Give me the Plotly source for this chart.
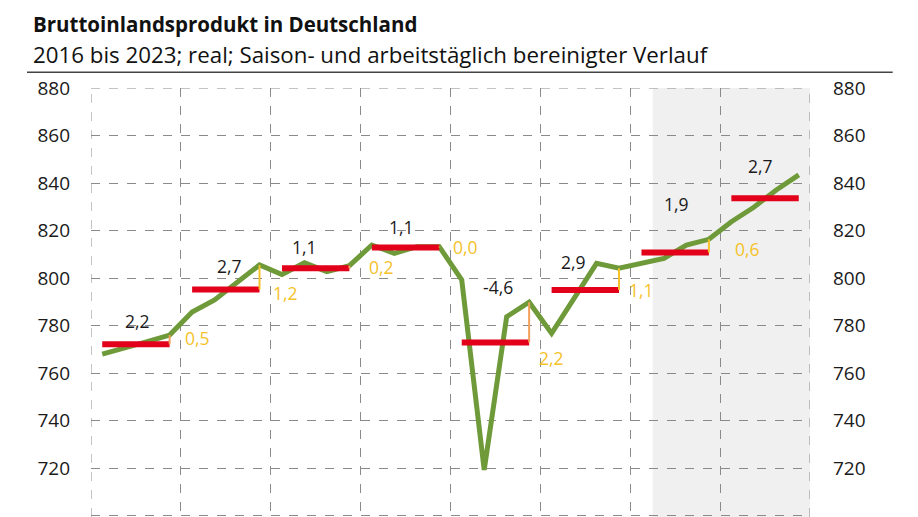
import plotly.graph_objects as go

# Bruttoinlandsprodukt, Mrd. Euro, vierteljaehrlich
jahre = [2016, 2017, 2018, 2019, 2020, 2021, 2022, 2023]
quartale = [1, 2, 3, 4]
bip = [768.0, 770.4, 773.2, 776.0,
       785.7, 790.8, 798.4, 805.5,
       801.5, 806.4, 802.7, 805.2,
       813.9, 810.4, 813.2, 813.2,
       799.2, 719.2, 783.7, 789.8,
       776.7, 791.2, 806.2, 804.1,
       806.2, 808.3, 813.9, 816.3,
       823.7, 829.8, 837.1, 843.4]
jahresdurchschnitt = [772.1, 795.2, 804.1, 812.9, 772.9, 795.0, 810.8, 833.6]
wachstum = ["2,2", "2,7", "1,1", "1,1", "-4,6", "2,9", "1,9", "2,7"]
ueberhang = ["0,5", "1,2", "0,2", "0,0", "2,2", "1,1", "0,6"]
prognose_ab = 2022.25

# label positions (data coords)
wachstum_pos = [(2016.52, 781.9), (2017.54, 805.0), (2018.37, 813.0), (2019.46, 821.5),
                (2020.53, 796.2), (2021.37, 806.7), (2022.51, 831.2), (2023.45, 847.2)]
ueberhang_pos = [(2017.18, 774.7), (2018.16, 793.7), (2019.23, 804.6), (2020.17, 813.1),
                 (2021.12, 766.3), (2022.12, 795.0), (2023.30, 812.2)]
ueberhang_farben = ["#f2a05a", "#f5c22a", "#f2a05a", "#f5c22a", "#f2a05a", "#f5c22a", "#f5c22a"]

FONT = "Open Sans"
GRID = "#8a8a8a"
yr = [699.4, 880.0]
x_q = [j + (q - 0.5) / 4 for j in jahre for q in quartale]

fig = go.Figure()

fig.add_vrect(x0=prognose_ab, x1=jahre[-1] + 1, fillcolor="#f0f0f0", line_width=0, layer="below")

# grid lines on the plot edges (plotly hides them)
fig.add_vline(x=jahre[0], line=dict(color=GRID, width=1, dash="dash"), layer="below")
fig.add_vline(x=jahre[-1] + 1, line=dict(color=GRID, width=1, dash="dash"), layer="below")
fig.add_hline(y=yr[1], line=dict(color=GRID, width=1, dash="dash"), layer="below")

fig.add_trace(go.Scatter(x=x_q, y=bip, mode="lines", line=dict(color="#6f9a3a", width=5),
                         showlegend=False, hoverinfo="skip"))

# annual averages
bx, by = [], []
for j, a in zip(jahre, jahresdurchschnitt):
    bx += [j + 0.125, j + 0.875, None]
    by += [a, a, None]
fig.add_trace(go.Scatter(x=bx, y=by, mode="lines", line=dict(color="#e2001a", width=6),
                         showlegend=False, hoverinfo="skip"))

# carry-over segments (Q4 vs. annual average)
for i in range(len(ueberhang)):
    q4 = bip[i * 4 + 3]
    fig.add_trace(go.Scatter(x=[jahre[i] + 0.875, jahre[i] + 0.875],
                             y=[jahresdurchschnitt[i], q4], mode="lines",
                             line=dict(color=ueberhang_farben[i], width=2),
                             showlegend=False, hoverinfo="skip"))

# invisible trace for right axis
fig.add_trace(go.Scatter(x=[x_q[0]], y=[bip[0]], yaxis="y2", mode="markers",
                         marker=dict(opacity=0), showlegend=False, hoverinfo="skip"))

for txt, (x, y) in zip(wachstum, wachstum_pos):
    fig.add_annotation(x=x, y=y, text=txt, showarrow=False,
                       font=dict(family=FONT, size=17.5, color="#1a1a1a"))
for txt, (x, y) in zip(ueberhang, ueberhang_pos):
    fig.add_annotation(x=x, y=y, text=txt, showarrow=False,
                       font=dict(family=FONT, size=17.5, color="#f5c22a"))

fig.add_annotation(xref="paper", yref="paper", x=-0.083, y=1.15, xanchor="left", yanchor="middle",
                   text="<b>Bruttoinlandsprodukt in Deutschland</b>", showarrow=False,
                   font=dict(family=FONT, size=20.5, color="#111"))
fig.add_annotation(xref="paper", yref="paper", x=-0.083, y=1.078, xanchor="left", yanchor="middle",
                   text="2016 bis 2023; real; Saison- und arbeitstäglich bereinigter Verlauf",
                   showarrow=False, font=dict(family=FONT, size=22.3, color="#111"))
fig.add_shape(type="line", xref="paper", yref="paper", x0=-0.089, x1=1.115, y0=1.037, y1=1.037,
              line=dict(color="#444", width=1.5))

fig.update_layout(
    width=918, height=517,
    margin=dict(l=83, r=116, t=80, b=8),
    paper_bgcolor="white", plot_bgcolor="white",
    xaxis=dict(range=[jahre[0], jahre[-1] + 1], dtick=1, tick0=jahre[0], showgrid=True,
               gridcolor=GRID, griddash="dash", gridwidth=1, showticklabels=False,
               zeroline=False, showline=False),
    yaxis=dict(range=yr, dtick=20, showgrid=True, gridcolor=GRID, griddash="dash",
               zeroline=False, showline=False, ticks="", ticklabelstandoff=20,
               tickfont=dict(family=FONT, size=19, color="#1a1a1a")),
    yaxis2=dict(range=yr, dtick=20, overlaying="y", side="right", showgrid=False,
                zeroline=False, showline=False, ticks="", ticklabelstandoff=22,
                tickfont=dict(family=FONT, size=19, color="#1a1a1a")),
)

fig.write_html("out.html")
